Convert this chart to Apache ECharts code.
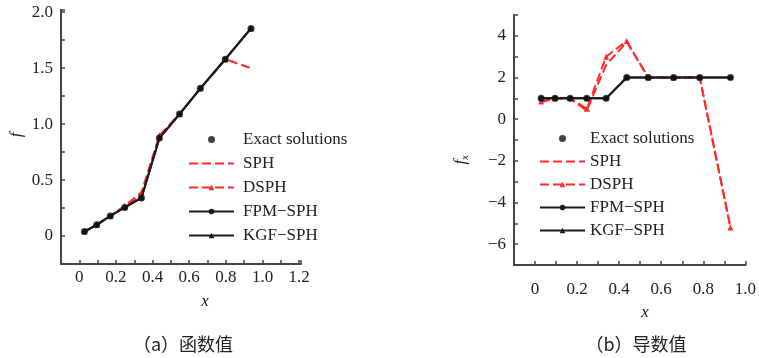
<!DOCTYPE html>
<html><head><meta charset="utf-8">
<script src="https://cdn.jsdelivr.net/npm/echarts@6/dist/echarts.min.js"></script>
<style>html,body{margin:0;padding:0;background:#fff}#c{width:759px;height:358px}</style>
</head><body><div id="c"></div>
<script>
// ---- data ----
const legendNames = ['Exact solutions', 'SPH', 'DSPH', 'FPM\u2212SPH', 'KGF\u2212SPH'];
// (a) function values
const xA = [0.028, 0.095, 0.169, 0.248, 0.339, 0.437, 0.547, 0.661, 0.797, 0.937];
const fExact = [0.04, 0.10, 0.18, 0.255, 0.34, 0.875, 1.09, 1.32, 1.58, 1.855];
const fSPH   = [0.04, 0.10, 0.18, 0.26, 0.37, 0.88, 1.09, 1.32, 1.58, 1.50];
const fDSPH  = [0.04, 0.10, 0.18, 0.27, 0.39, 0.90, 1.09, 1.32, 1.58, 1.855];
const fFPM   = [0.04, 0.10, 0.18, 0.255, 0.34, 0.875, 1.09, 1.32, 1.58, 1.855];
const fKGF   = [0.04, 0.10, 0.18, 0.255, 0.34, 0.875, 1.09, 1.32, 1.58, 1.855];
const xLabelStepA = 0.2;   // tick labels 0, 0.2 ... 1.2
const yLabelStepA = 0.5;   // tick labels 0, 0.5 ... 2.0
// (b) derivative values
const xB = [0.029, 0.095, 0.167, 0.246, 0.338, 0.436, 0.538, 0.659, 0.783, 0.929];
const dExact = [1, 1, 1, 1, 1, 2, 2, 2, 2, 2];
const dSPH   = [0.82, 1.0, 0.98, 0.42, 2.6, 3.7, 2.0, 2.0, 2.0, -5.2];
const dDSPH  = [0.85, 1.0, 1.0, 0.5, 3.0, 3.75, 2.0, 2.0, 2.0, -5.2];
const dFPM   = [1, 1, 1, 1, 1, 2, 2, 2, 2, 2];
const dKGF   = [1, 1, 1, 1, 1, 2, 2, 2, 2, 2];
const xLabelStepB = 0.2;   // tick labels 0, 0.2 ... 1.0
const yLabelStepB = 2;     // tick labels -6, -4 ... 4

// ---- helpers ----
const pair = (xs, ys) => xs.map((x, i) => [x, ys[i]]);
const SERIF = '"Liberation Serif", "DejaVu Serif", serif';
const AX = '#444';
const RED = '#ff2b2b';
const onStep = (v, s) => Math.abs(v / s - Math.round(v / s)) < 1e-6;
const fmtNum = (v, d) => (Math.abs(v) < 1e-9 ? '0' : v.toFixed(d).replace('-', '\u2212'));

function labelStyle(fam) {
  return { fontFamily: fam, fontSize: 17, color: '#222', fontStyle: 'normal' };
}
function xAxis(grid, min, max, step, margin, fam) {
  const st = labelStyle(fam);
  return {
    type: 'value', gridIndex: grid, min: min, max: max, interval: 0.1,
    axisLine: { show: true, onZero: false, lineStyle: { color: AX, width: 2 } },
    axisTick: { show: true, inside: true, length: 4, lineStyle: { color: AX, width: 1.5 } },
    axisLabel: Object.assign({ show: true, margin: margin, showMinLabel: true, showMaxLabel: true,
      formatter: v => (v >= -1e-9 && onStep(v, step)) ? fmtNum(v, 1) : '' }, st),
    splitLine: { show: false }
  };
}
function yAxis(grid, min, max, interval, step, dec, fam) {
  const st = labelStyle(fam);
  return {
    type: 'value', gridIndex: grid, min: min, max: max, interval: interval,
    axisLine: { show: true, onZero: false, lineStyle: { color: AX, width: 2 } },
    axisTick: { show: true, inside: true, length: 4, lineStyle: { color: AX, width: 1.5 } },
    axisLabel: Object.assign({ show: true, margin: 8, showMinLabel: true, showMaxLabel: true,
      formatter: v => onStep(v, step) ? fmtNum(v, dec) : '' }, st),
    splitLine: { show: false }
  };
}
function seriesSet(idx, xs, ex, sph, dsph, fpm, kgf) {
  return [
    { name: legendNames[1], type: 'line', xAxisIndex: idx, yAxisIndex: idx, data: pair(xs, sph), symbol: 'none',
      lineStyle: { color: RED, width: 2, type: [9, 4] }, itemStyle: { color: RED }, z: 2 },
    { name: legendNames[2], type: 'line', xAxisIndex: idx, yAxisIndex: idx, data: pair(xs, dsph), symbol: 'triangle', symbolSize: 6,
      lineStyle: { color: RED, width: 2, type: [9, 4] }, itemStyle: { color: RED }, z: 2 },
    { name: legendNames[3], type: 'line', xAxisIndex: idx, yAxisIndex: idx, data: pair(xs, fpm), symbol: 'circle', symbolSize: 5,
      lineStyle: { color: '#1a1a1a', width: 2 }, itemStyle: { color: '#1a1a1a' }, z: 3 },
    { name: legendNames[4], type: 'line', xAxisIndex: idx, yAxisIndex: idx, data: pair(xs, kgf), symbol: 'triangle', symbolSize: 5,
      lineStyle: { color: '#1a1a1a', width: 2 }, itemStyle: { color: '#1a1a1a' }, z: 3 },
    { name: legendNames[0], type: 'scatter', xAxisIndex: idx, yAxisIndex: idx, data: pair(xs, ex), symbol: 'circle', symbolSize: 7,
      itemStyle: { color: '#111' }, z: 4 }
  ];
}
function legend(left, top, pad, gap) {
  return {
    left: left, top: top, orient: 'vertical', itemWidth: 45, itemHeight: 7, itemGap: gap,
    selectedMode: false,
    textStyle: { fontFamily: SERIF, fontSize: 17, color: '#222', padding: [0, 0, 0, pad] },
    data: [
      { name: legendNames[0], icon: 'circle' },
      { name: legendNames[1], itemStyle: { color: 'transparent', borderWidth: 0 } },
      { name: legendNames[2] },
      { name: legendNames[3] },
      { name: legendNames[4] }
    ]
  };
}

const chart = echarts.init(document.getElementById('c'), null, { renderer: 'canvas' });
chart.setOption({
  backgroundColor: '#fff',
  animation: false,
  textStyle: { fontFamily: SERIF },
  grid: [
    { left: 61, top: 10, width: 240, height: 254 },
    { left: 514, top: 15, width: 239, height: 250 }
  ],
  xAxis: [xAxis(0, -0.1, 1.21, xLabelStepA, 5, SERIF), xAxis(1, -0.1, 1.0, xLabelStepB, 16, SERIF)],
  yAxis: [
    yAxis(0, -0.25, 2.02, 0.25, yLabelStepA, 1, SERIF),
    yAxis(1, -7, 5, 1, yLabelStepB, 0, SERIF)
  ],
  legend: [legend(183, 126, 4, 7), legend(534, 125, 0, 6)],
  series: [].concat(
    seriesSet(0, xA, fExact, fSPH, fDSPH, fFPM, fKGF),
    seriesSet(1, xB, dExact, dSPH, dDSPH, dFPM, dKGF)
  ),
  graphic: [
    { type: 'text', x: 17, y: 135, rotation: Math.PI / 2,
      style: { text: 'f', font: 'italic 17px "Liberation Serif"', fill: '#222', textAlign: 'center', textVerticalAlign: 'middle' } },
    { type: 'text', x: 461, y: 160, rotation: Math.PI / 2,
      style: { text: '{a|f}{b|x}', fill: '#222', textAlign: 'center', textVerticalAlign: 'middle',
        rich: { a: { fontFamily: SERIF, fontStyle: 'italic', fontSize: 17, fill: '#222' },
                b: { fontFamily: SERIF, fontStyle: 'italic', fontSize: 10, fill: '#222', padding: [8, 0, 0, 0] } } } },
    { type: 'text', x: 205, y: 302,
      style: { text: 'x', font: 'italic 17px "Liberation Serif"', fill: '#222', textAlign: 'center', textVerticalAlign: 'middle' } },
    { type: 'text', x: 645, y: 313,
      style: { text: 'x', font: 'italic 17px "Liberation Serif"', fill: '#222', textAlign: 'center', textVerticalAlign: 'middle' } },
    { type: 'text', x: 183, y: 344,
      style: { text: '（a）函数值', font: '18px "Noto Sans CJK SC"', fill: '#222', textAlign: 'center', textVerticalAlign: 'middle' } },
    { type: 'text', x: 636, y: 344,
      style: { text: '（b）导数值', font: '18px "Noto Sans CJK SC"', fill: '#222', textAlign: 'center', textVerticalAlign: 'middle' } }
  ]
});
</script>
</body></html>
